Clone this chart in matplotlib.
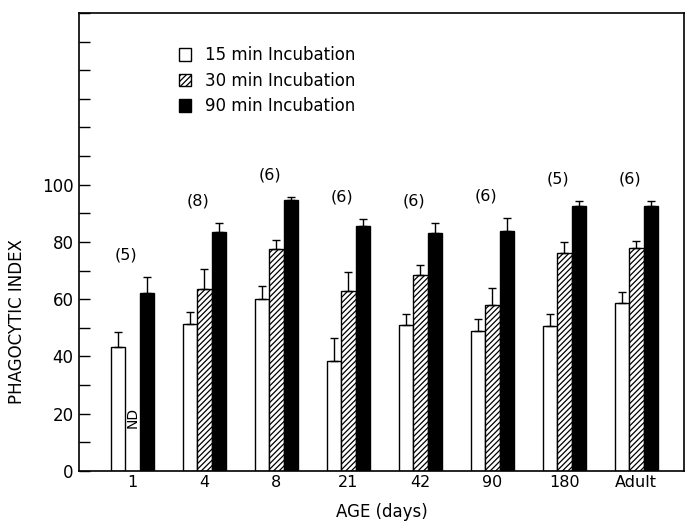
import numpy as np
import matplotlib
matplotlib.use("Agg")
import matplotlib.pyplot as plt
from matplotlib.patches import Patch

plt.rcParams['font.family'] = ['DejaVu Sans']
plt.rcParams['hatch.linewidth'] = 0.9

ages = ['1', '4', '8', '21', '42', '90', '180', 'Adult']
n_animals = ['(5)', '(8)', '(6)', '(6)', '(6)', '(6)', '(5)', '(6)']

# mean phagocytic index and SE for each incubation time
inc15 = [43.3, 51.2, 60.0, 38.5, 50.8, 48.8, 50.5, 58.6]
err15 = [5.2, 4.4, 4.7, 7.8, 4.0, 4.2, 4.3, 4.0]
inc30 = [np.nan, 63.4, 77.6, 63.0, 68.3, 58.0, 76.2, 77.9]   # ND at day 1
err30 = [np.nan, 7.3, 3.2, 6.4, 3.6, 6.0, 3.8, 2.5]
inc90 = [62.0, 83.6, 94.5, 85.6, 83.0, 84.0, 92.4, 92.4]
err90 = [5.9, 3.0, 1.2, 2.5, 3.6, 4.3, 1.9, 1.9]

fig, ax = plt.subplots(figsize=(6.88, 5.22), dpi=100)
fig.subplots_adjust(left=0.115, right=0.994, top=0.975, bottom=0.098)

x = np.arange(len(ages))
w = 0.2

series = [
    (inc15, err15, 'white', '', '15 min Incubation'),
    (inc30, err30, 'white', '//////', '30 min Incubation'),
    (inc90, err90, 'black', '', '90 min Incubation'),
]
for k, (vals, errs, fc, hatch, lab) in enumerate(series):
    xs = x + (k - 1) * w
    vals = np.array(vals)
    errs = np.array(errs)
    ok = ~np.isnan(vals)
    ax.bar(xs[ok], vals[ok], w, color=fc, edgecolor='black', hatch=hatch,
           linewidth=1.0, zorder=2)
    ax.errorbar(xs[ok], vals[ok], yerr=[np.zeros(ok.sum()), errs[ok]],
                fmt='none', ecolor='black', elinewidth=1.0, capsize=3,
                capthick=1.0, zorder=3)

# ND marker for the missing 30 min bar
ax.text(x[0], 18.5, 'ND', rotation=90, ha='center', va='center', fontsize=10)

# number of animals above each group
tops = np.nanmax(np.array([np.array(inc15) + err15,
                           np.array(inc30) + err30,
                           np.array(inc90) + err90]), axis=0)
for xi, t, lab in zip(x, tops, n_animals):
    ax.text(xi - 0.09, t + 5, lab, ha='center', va='bottom', fontsize=11.5)

ax.set_xlim(-0.74, 7.66)
ax.set_ylim(0, 160)
ax.set_xticks(x)
ax.set_xticklabels(ages, fontsize=11.5)
ax.tick_params(axis='x', length=0, pad=3)
ax.set_yticks(np.arange(0, 161, 10))
ax.set_yticklabels([str(v) if (v % 20 == 0 and v <= 100) else '' for v in range(0, 161, 10)],
                   fontsize=12)
ax.tick_params(axis='y', direction='in', length=8, width=1.0, pad=4)
for s in ax.spines.values():
    s.set_linewidth(1.2)

ax.set_xlabel('AGE (days)', fontsize=12, labelpad=9)
ax.set_ylabel('PHAGOCYTIC INDEX', fontsize=12)
ax.yaxis.set_label_coords(-0.088, 0.325)

handles = [Patch(facecolor=fc, edgecolor='black', hatch=h, label=lab)
           for _, _, fc, h, lab in series]
ax.legend(handles=handles, loc='upper left', bbox_to_anchor=(0.14, 0.96),
          frameon=False, fontsize=12, handlelength=0.75, handleheight=0.75,
          handletextpad=0.8, labelspacing=0.45)

fig.savefig('out.png', dpi=100)
